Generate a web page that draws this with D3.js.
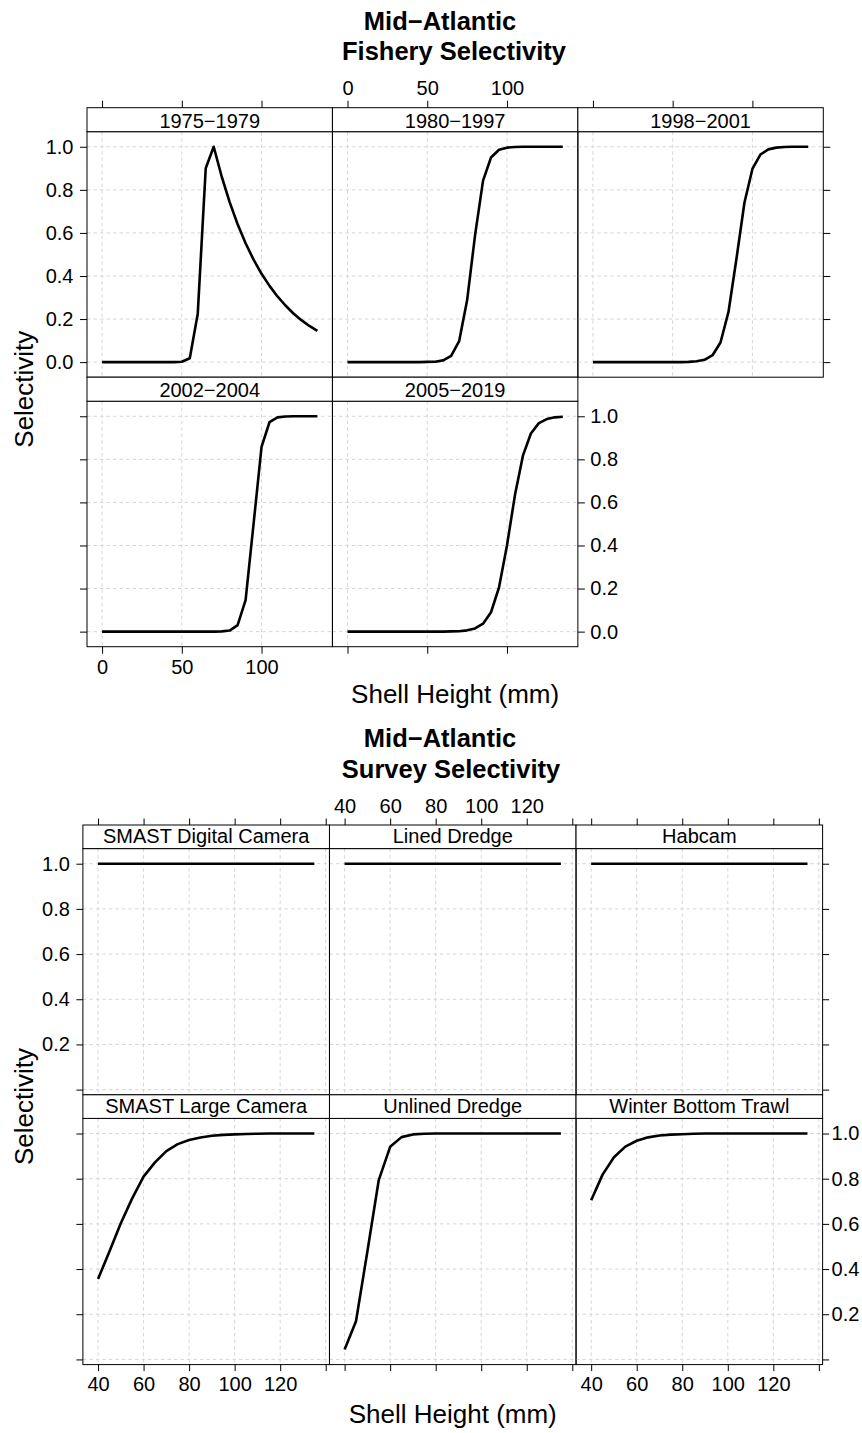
<!DOCTYPE html>
<html>
<head>
<meta charset="utf-8">
<script src="https://cdn.jsdelivr.net/npm/d3@7"></script>
<style>
  body { margin: 0; background: #fff; }
  svg { display: block; font-family: "Liberation Sans", Arial, Helvetica, sans-serif; }
</style>
</head>
<body>
<svg id="chart" width="862" height="1433"></svg>
<script>
// ---------- Fishery selectivity by period (shell height in mm) ----------
const fisheryShellHeight = [0, 5, 10, 15, 20, 25, 30, 35, 40, 45, 50, 55, 60, 65, 70,
  75, 80, 85, 90, 95, 100, 105, 110, 115, 120, 125, 130, 135];
const fisheryPeriods = ["1975\u22121979", "1980\u22121997", "1998\u22122001", "2002\u22122004", "2005\u22122019"];
const fishery1975 = [0, 0, 0, 0, 0, 0, 0, 0, 0, 0, 0.002, 0.018, 0.225, 0.900, 1.000,
  0.862, 0.743, 0.640, 0.552, 0.476, 0.410, 0.354, 0.305, 0.263, 0.226, 0.195, 0.168, 0.145];
const fishery1980 = [0, 0, 0, 0, 0, 0, 0, 0, 0, 0, 0.001, 0.002, 0.008, 0.029, 0.097,
  0.287, 0.590, 0.843, 0.950, 0.986, 0.996, 0.999, 1, 1, 1, 1, 1, 1];
const fishery1998 = [0, 0, 0, 0, 0, 0, 0, 0, 0, 0, 0, 0, 0.001, 0.004, 0.011,
  0.032, 0.091, 0.233, 0.480, 0.740, 0.897, 0.964, 0.988, 0.996, 0.999, 1, 1, 1];
const fishery2002 = [0, 0, 0, 0, 0, 0, 0, 0, 0, 0, 0, 0, 0, 0, 0,
  0.001, 0.005, 0.030, 0.146, 0.500, 0.858, 0.973, 0.995, 0.999, 1, 1, 1, 1];
const fishery2005 = [0, 0, 0, 0, 0, 0, 0, 0, 0, 0, 0, 0, 0, 0.001, 0.002,
  0.006, 0.015, 0.037, 0.090, 0.205, 0.400, 0.634, 0.817, 0.920, 0.968, 0.987, 0.995, 0.998];
const fisheryXTicks = [0, 50, 100];
const fisheryXTickLabels = ["0", "50", "100"];
const fisheryYTicks = [0, 0.2, 0.4, 0.6, 0.8, 1.0];
const fisheryYTickLabels = ["0.0", "0.2", "0.4", "0.6", "0.8", "1.0"];

// ---------- Survey selectivity by gear ----------
const surveyShellHeight = [40, 45, 50, 55, 60, 65, 70, 75, 80, 85, 90, 95, 100, 105, 110,
  115, 120, 125, 130, 135];
const surveyGears = ["SMAST Digital Camera", "Lined Dredge", "Habcam",
  "SMAST Large Camera", "Unlined Dredge", "Winter Bottom Trawl"];
const surveySmastDigital = [1, 1, 1, 1, 1, 1, 1, 1, 1, 1, 1, 1, 1, 1, 1, 1, 1, 1, 1, 1];
const surveyLinedDredge = [1, 1, 1, 1, 1, 1, 1, 1, 1, 1, 1, 1, 1, 1, 1, 1, 1, 1, 1, 1];
const surveyHabcam = [1, 1, 1, 1, 1, 1, 1, 1, 1, 1, 1, 1, 1, 1, 1, 1, 1, 1, 1, 1];
const surveySmastLarge = [0.356, 0.478, 0.603, 0.713, 0.809, 0.872, 0.922, 0.953, 0.971, 0.982,
  0.990, 0.994, 0.996, 0.998, 0.999, 1, 1, 1, 1, 1];
const surveyUnlinedDredge = [0.044, 0.169, 0.478, 0.794, 0.941, 0.984, 0.996, 0.999, 1, 1,
  1, 1, 1, 1, 1, 1, 1, 1, 1, 1];
const surveyWinterTrawl = [0.705, 0.818, 0.895, 0.942, 0.968, 0.983, 0.991, 0.995, 0.997, 0.999,
  1, 1, 1, 1, 1, 1, 1, 1, 1, 1];
const surveyXTicks = [40, 60, 80, 100, 120, 140];
const surveyXTickLabels = ["40", "60", "80", "100", "120", ""];
const surveyYTicks = [0, 0.2, 0.4, 0.6, 0.8, 1.0];
const surveyYTickLabels = ["", "0.2", "0.4", "0.6", "0.8", "1.0"];

const svg = d3.select("#chart");
const FONT_TICK = 20, FONT_STRIP = 20, FONT_LAB = 26, FONT_MAIN = 25.5;

// Padded lattice-style range: extend the data range by 7% on each side.
function padded(ext) {
  const d = (ext[1] - ext[0]) * 0.07;
  return [ext[0] - d, ext[1] + d];
}

function styleAxis(sel) {
  sel.select(".domain").remove();
  sel.selectAll(".tick line").attr("stroke", "#000").attr("stroke-width", 1);
  sel.selectAll(".tick text").attr("fill", "#000").style("font-size", FONT_TICK + "px");
  sel.attr("font-family", null).attr("font-size", null);
}

function drawLattice(cfg) {
  const g = svg.append("g");
  const nrow = Math.ceil(cfg.panels.length / cfg.ncol);
  const xDom = padded(d3.extent(cfg.x));
  const yDom = padded(d3.extent(cfg.panels.flatMap(p => p.values)));
  const colLeft = c => cfg.left + c * cfg.panelW;
  const rowTop = r => cfg.top + r * (cfg.stripH + cfg.panelH);
  const xLab = d => cfg.xTickLabels[cfg.xTicks.indexOf(d)];
  const yLab = d => cfg.yTickLabels[cfg.yTicks.indexOf(d)];
  const blank = () => "";

  cfg.panels.forEach((p, i) => {
    const r = Math.floor(i / cfg.ncol), c = i % cfg.ncol;
    const x0 = colLeft(c), s0 = rowTop(r), p0 = s0 + cfg.stripH;
    const x = d3.scaleLinear().domain(xDom).range([x0, x0 + cfg.panelW]);
    const y = d3.scaleLinear().domain(yDom).range([p0 + cfg.panelH, p0]);
    const xt = cfg.xTicks.filter(v => v >= xDom[0] && v <= xDom[1]);
    const yt = cfg.yTicks.filter(v => v >= yDom[0] && v <= yDom[1]);
    const pg = g.append("g");

    // reference grid
    pg.selectAll("line.gx").data(xt).join("line")
      .attr("x1", d => x(d)).attr("x2", d => x(d))
      .attr("y1", p0).attr("y2", p0 + cfg.panelH)
      .attr("stroke", "#d6d6d6").attr("stroke-width", 1).attr("stroke-dasharray", "3.5,3");
    pg.selectAll("line.gy").data(yt).join("line")
      .attr("x1", x0).attr("x2", x0 + cfg.panelW)
      .attr("y1", d => y(d)).attr("y2", d => y(d))
      .attr("stroke", "#d6d6d6").attr("stroke-width", 1).attr("stroke-dasharray", "3.5,3");

    // selectivity curve
    const line = d3.line().x((d, k) => x(cfg.x[k])).y(d => y(d));
    pg.append("path").datum(p.values).attr("d", line)
      .attr("fill", "none").attr("stroke", "#000").attr("stroke-width", 2.6)
      .attr("stroke-linejoin", "round");

    // panel frame and strip
    pg.append("rect").attr("x", x0).attr("y", p0).attr("width", cfg.panelW).attr("height", cfg.panelH)
      .attr("fill", "none").attr("stroke", "#000").attr("stroke-width", 1);
    pg.append("rect").attr("x", x0).attr("y", s0).attr("width", cfg.panelW).attr("height", cfg.stripH)
      .attr("fill", "#fff").attr("stroke", "#000").attr("stroke-width", 1);
    pg.append("text").attr("x", x0 + cfg.panelW / 2).attr("y", s0 + cfg.stripH - cfg.stripBase)
      .attr("text-anchor", "middle").style("font-size", FONT_STRIP + "px").text(p.name);

    // axes on the outer sides, labels alternating
    if (r === 0) {
      g.append("g").attr("transform", `translate(0,${s0})`)
        .call(d3.axisTop(x).tickValues(xt).tickSize(cfg.tick).tickPadding(cfg.padTop)
          .tickFormat(c % 2 === 1 ? xLab : blank)).call(styleAxis);
    }
    if (r === nrow - 1) {
      g.append("g").attr("transform", `translate(0,${p0 + cfg.panelH})`)
        .call(d3.axisBottom(x).tickValues(xt).tickSize(cfg.tick).tickPadding(cfg.padBottom)
          .tickFormat(c % 2 === 0 ? xLab : blank)).call(styleAxis);
    }
    if (c === 0) {
      g.append("g").attr("transform", `translate(${x0},0)`)
        .call(d3.axisLeft(y).tickValues(yt).tickSize(cfg.tick).tickPadding(cfg.padLeft)
          .tickFormat(r % 2 === 0 ? yLab : blank)).call(styleAxis);
    }
    if (c === cfg.ncol - 1 || i === cfg.panels.length - 1) {
      g.append("g").attr("transform", `translate(${x0 + cfg.panelW},0)`)
        .call(d3.axisRight(y).tickValues(yt).tickSize(cfg.tick).tickPadding(cfg.padRight)
          .tickFormat(r % 2 === 1 ? yLab : blank)).call(styleAxis);
    }
  });

  // titles and axis labels
  const cx = cfg.left + cfg.ncol * cfg.panelW / 2;
  const panelsTop = cfg.top + cfg.stripH;
  const panelsBottom = cfg.top + nrow * (cfg.stripH + cfg.panelH);
  cfg.main.forEach(t => {
    g.append("text").attr("x", t.cx).attr("y", t.y).attr("text-anchor", "middle")
      .style("font-size", FONT_MAIN + "px").style("font-weight", "bold").text(t.text);
  });
  g.append("text").attr("x", cx).attr("y", cfg.xlabY).attr("text-anchor", "middle")
    .style("font-size", FONT_LAB + "px").text("Shell Height (mm)");
  g.append("text")
    .attr("transform", `translate(${cfg.ylabX},${(panelsTop + panelsBottom) / 2}) rotate(-90)`)
    .attr("text-anchor", "middle").style("font-size", FONT_LAB + "px").text("Selectivity");
}

// Fishery panels
drawLattice({
  panels: fisheryPeriods.map((name, k) => ({
    name, values: [fishery1975, fishery1980, fishery1998, fishery2002, fishery2005][k]
  })),
  x: fisheryShellHeight,
  ncol: 3, left: 87, top: 107.7, panelW: 245.43, panelH: 245.5, stripH: 24, stripBase: 4.2,
  xTicks: fisheryXTicks, xTickLabels: fisheryXTickLabels,
  yTicks: fisheryYTicks, yTickLabels: fisheryYTickLabels,
  tick: 7, padTop: 5.5, padBottom: 6, padLeft: 6.5, padRight: 5.5,
  main: [{ text: "Mid\u2212Atlantic", cx: 440, y: 30 }, { text: "Fishery Selectivity", cx: 454, y: 60 }],
  xlabY: 703, ylabX: 33
});

// Survey panels
drawLattice({
  panels: surveyGears.map((name, k) => ({
    name, values: [surveySmastDigital, surveyLinedDredge, surveyHabcam,
      surveySmastLarge, surveyUnlinedDredge, surveyWinterTrawl][k]
  })),
  x: surveyShellHeight,
  ncol: 3, left: 82.9, top: 825, panelW: 246.57, panelH: 246.2, stripH: 23.6, stripBase: 5.2,
  xTicks: surveyXTicks, xTickLabels: surveyXTickLabels,
  yTicks: surveyYTicks, yTickLabels: surveyYTickLabels,
  tick: 6.5, padTop: 5.5, padBottom: 6, padLeft: 6.5, padRight: 2.5,
  main: [{ text: "Mid\u2212Atlantic", cx: 440, y: 746.7 }, { text: "Survey Selectivity", cx: 451, y: 777.5 }],
  xlabY: 1422.7, ylabX: 33
});
</script>
</body>
</html>
